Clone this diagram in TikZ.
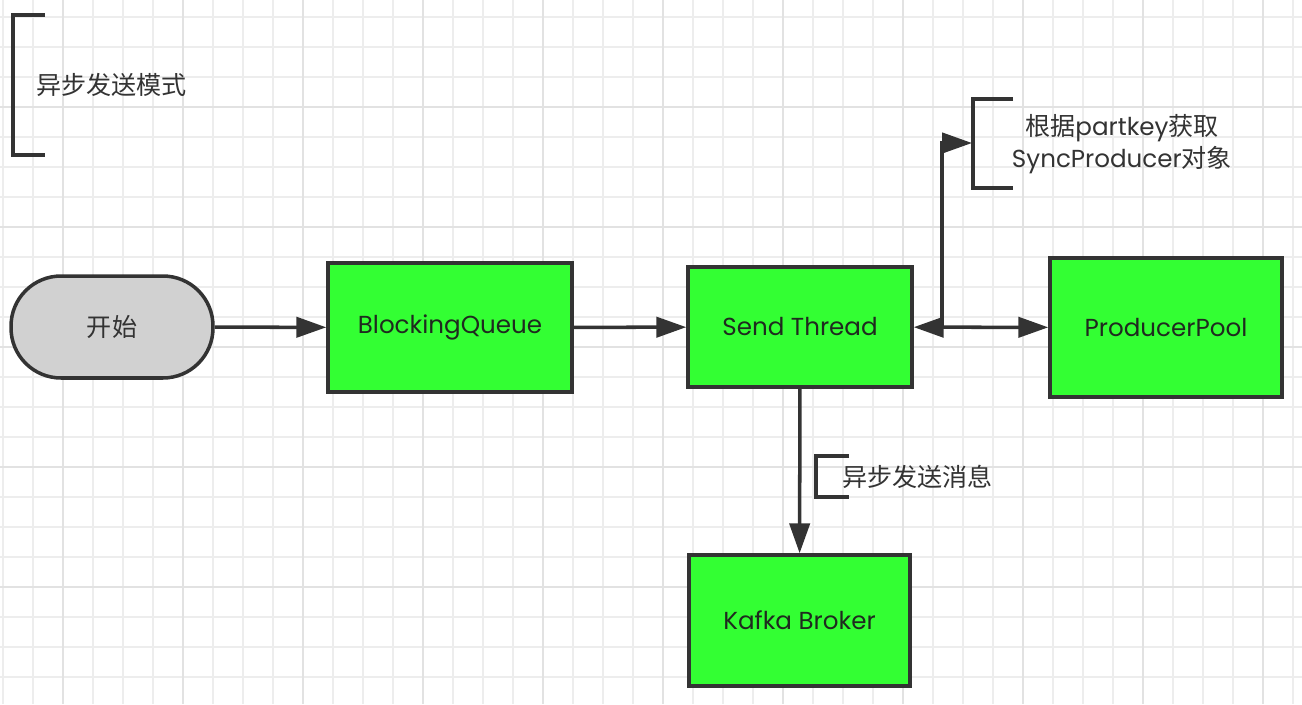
\documentclass[tikz,border=0pt]{standalone}
\usepackage{fontspec}
\setmainfont{Poppins}
\newfontfamily\cjk[Scale=1.02]{Noto Sans CJK SC}
\usetikzlibrary{arrows.meta,positioning}

\definecolor{boxgreen}{HTML}{33FF33}
\definecolor{startgray}{HTML}{D1D1D1}
\definecolor{linedark}{HTML}{333333}
\definecolor{boxtext}{HTML}{1F2A1F}
\definecolor{notegray}{HTML}{333333}
\definecolor{gridlight}{HTML}{EDEDED}
\definecolor{gridmid}{HTML}{E2E2E2}

\tikzset{
    flowbox/.style={draw=linedark, line width=2pt, fill=boxgreen, text=boxtext, inner sep=0pt},
    startbox/.style={flowbox, fill=startgray, text=notegray, rounded corners=1cm},
    flowarrow/.style={draw=linedark, line width=2pt, -{Triangle[length=17pt,width=11.5pt]}},
    twoarrow/.style={flowarrow, {Triangle[length=17pt,width=11.5pt]}-{Triangle[length=17pt,width=11.5pt]}},
    notebracket/.style={draw=linedark, line width=2pt},
    notetext/.style={text=notegray, inner sep=0pt},
    gridminor/.style={draw=gridlight, line width=1pt},
    gridmajor/.style={draw=gridmid, line width=1pt}
}

\begin{document}
\begin{tikzpicture}[x=0.02cm, y=-0.02cm, font=\fontsize{14}{16}\selectfont]

    \useasboundingbox (0,0) rectangle (1302,704);
    \fill[white] (0,0) rectangle (1302,704);

    % grid paper
    \foreach \gx in {3,33,...,1293} \draw[gridminor] (\gx,0) -- (\gx,704);
    \foreach \gy in {17,47,...,677} \draw[gridminor] (0,\gy) -- (1302,\gy);
    \foreach \gx in {63,183,...,1263} \draw[gridmajor] (\gx,0) -- (\gx,704);
    \foreach \gy in {107,227,...,587} \draw[gridmajor] (0,\gy) -- (1302,\gy);

    \node[startbox, minimum width=4.04cm, minimum height=2.04cm] (start) at (112,327) {\cjk 开始};
    \node[flowbox, minimum width=4.88cm, minimum height=2.58cm] (queue) at (450,327.5) {BlockingQueue};
    \node[flowbox, minimum width=4.48cm, minimum height=2.4cm] (sender) at (800,327) {Send Thread};
    \node[flowbox, minimum width=4.64cm, minimum height=2.78cm] (pool) at (1166,327.5) {ProducerPool};
    \node[flowbox, minimum width=4.42cm, minimum height=2.62cm] (broker) at (799.5,620.5) {Kafka Broker};

    \draw[flowarrow] (start) -- (queue);
    \draw[flowarrow] (queue) -- (sender);
    \draw[twoarrow] (sender) -- (pool);
    \draw[flowarrow] (sender) -- (broker);

    \coordinate (fork) at (942,327);
    \coordinate (keytip) at (972,143);
    \draw[flowarrow] (fork) |- (keytip);

    % notes
    \draw[notebracket] (45,15) -- (13,15) -- (13,155) -- (45,155);
    \node[notetext, anchor=west] (modenote) at (36,85) {\cjk 异步发送模式};

    \draw[notebracket] (1013,99) -- (973,99) -- (973,188) -- (1013,188);
    \node[notetext, align=center, font=\fontsize{14}{18.2}\selectfont] (keynote) at (1122,144)
        {{\cjk 根据}partkey{\cjk 获取}\\SyncProducer{\cjk 对象}};

    \draw[notebracket] (849,456) -- (816,456) -- (816,497) -- (849,497);
    \node[notetext, anchor=west] (sendnote) at (842,477) {\cjk 异步发送消息};

\end{tikzpicture}
\end{document}
